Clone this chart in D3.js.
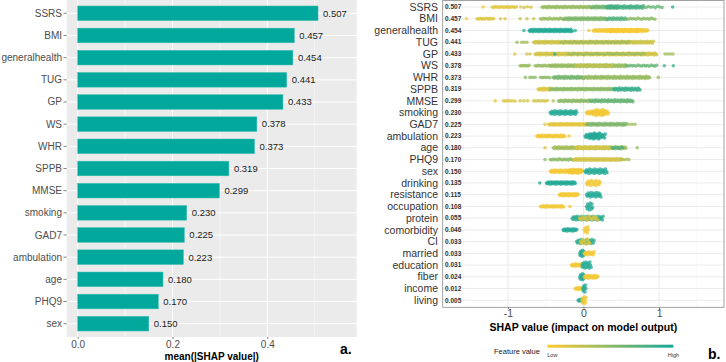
<!DOCTYPE html>
<html>
<head>
<meta charset="utf-8">
<script src="https://cdn.jsdelivr.net/npm/d3@7"></script>
<style>
body { margin: 0; background: #fff; }
text { font-family: "Liberation Sans", Arial, sans-serif; }
</style>
</head>
<body>
<div id="chart"></div>
<script>
let width = 726;
let height = 362;

// Panel a: mean(|SHAP value|) per feature
let barFeatures = ['SSRS', 'BMI', 'generalhealth', 'TUG', 'GP', 'WS', 'WHR', 'SPPB', 'MMSE', 'smoking', 'GAD7', 'ambulation', 'age', 'PHQ9', 'sex'];
let barValues = [0.507, 0.457, 0.454, 0.441, 0.433, 0.378, 0.373, 0.319, 0.299, 0.230, 0.225, 0.223, 0.180, 0.170, 0.150];
let barTicks = [0, 0.2, 0.4];
let barMinorTicks = [0.1, 0.3, 0.5];

// Panel b: SHAP summary (beeswarm)
let swarmFeatures = ['SSRS', 'BMI', 'generalhealth', 'TUG', 'GP', 'WS', 'WHR', 'SPPB', 'MMSE', 'smoking', 'GAD7', 'ambulation', 'age', 'PHQ9', 'sex', 'drinking', 'resistance', 'occupation', 'protein', 'comorbidity', 'CI', 'married', 'education', 'fiber', 'income', 'living'];
let swarmValues = ['0.507', '0.457', '0.454', '0.441', '0.433', '0.378', '0.373', '0.319', '0.299', '0.230', '0.225', '0.223', '0.180', '0.170', '0.150', '0.135', '0.115', '0.108', '0.055', '0.046', '0.033', '0.033', '0.031', '0.024', '0.012', '0.005'];
// runs of points: [from SHAP, to SHAP, feature value (0 low - 1 high), vertical spread, spacing]
let swarmRuns = [
	[[-1.33,-1.33,0.05,0,1], [-1.21,-0.88,0.12,0.5,0.02], [-0.83,-0.69,0.2,0.5,0.045], [-0.55,0.1,0.45,0.8,0.015], [0.1,0.45,0.6,1,0.012], [0.3,0.8,0.8,1.2,0.012], [0.8,1.04,0.65,0.8,0.03], [1.18,1.18,0.9,0,1]],
	[[-1.55,-1.55,0.05,0,1], [-1.41,-1.19,0.15,0.5,0.02], [-1.1,-1.03,0.15,0,0.06], [-0.84,-0.66,0.25,0,0.09], [-0.57,-0.26,0.45,0.6,0.02], [-0.26,0.31,0.55,1,0.012], [0.31,0.57,0.75,1,0.015], [0.57,0.95,0.5,0.6,0.025]],
	[[-0.79,-0.79,0.95,0,1], [-0.72,-0.15,0.95,1.2,0.01], [-0.11,-0.11,0.9,0,1], [0.07,0.07,0.05,0,1], [0.13,0.86,0.05,1,0.012], [0.3,0.75,0.03,1.3,0.012]],
	[[-0.88,-0.88,0.45,0,1], [-0.82,-0.75,0.4,0,0.035], [-0.66,0.93,0.22,1,0.012], [-0.3,0.6,0.4,0.6,0.03]],
	[[-0.91,-0.91,0.1,0,1], [-0.75,-0.71,0.2,0,0.04], [-0.64,0.97,0.2,1,0.012], [-0.2,0.8,0.45,0.6,0.04], [-0.38,-0.38,0.95,0,1], [1.08,1.19,0.4,0,0.035]],
	[[-0.84,-0.71,0.45,0.3,0.02], [-0.64,-0.44,0.45,0.5,0.02], [-0.44,0.57,0.45,1,0.012], [-0.1,0.4,0.25,0.8,0.03], [0.57,0.97,0.65,0.6,0.025], [1.07,1.07,0.8,0,1], [1.19,1.19,0.85,0,1]],
	[[-0.77,-0.77,0.5,0,1], [-0.71,-0.64,0.5,0,0.035], [-0.57,-0.44,0.5,0.3,0.025], [-0.4,0.0,0.6,1,0.012], [0.0,0.88,0.45,1,0.012], [0.99,0.99,0.45,0,1]],
	[[-0.6,-0.44,0.15,1,0.012], [-0.44,0.4,0.5,0.8,0.014], [0.4,0.75,0.85,1.2,0.012]],
	[[-1.17,-1.17,0.1,0,1], [-1.06,-0.9,0.15,0.3,0.03], [-0.84,-0.73,0.2,0,0.05], [-0.66,-0.46,0.2,0.3,0.03], [-0.4,-0.4,0.3,0,1], [-0.33,0.09,0.5,0.8,0.015], [0.09,0.66,0.65,1,0.012]],
	[[-0.44,-0.09,0.95,1.8,0.01], [0.04,0.33,0.05,1.5,0.01], [0.12,0.28,0.05,3,0.01]],
	[[-0.51,-0.51,0.1,0,1], [-0.46,0.04,0.12,0.8,0.012], [0.04,0.57,0.55,1,0.012], [0.6,0.71,0.4,0,0.04]],
	[[-0.62,-0.24,0.05,1,0.012], [-0.19,-0.19,0.05,0,1], [0.02,0.29,0.95,2,0.01], [0.08,0.22,0.95,3,0.01]],
	[[-0.51,-0.51,0.2,0,1], [-0.4,0.57,0.4,1,0.012], [-0.1,0.35,0.15,1,0.02], [0.38,0.52,0.75,0.8,0.02], [0.71,0.71,0.45,0,1]],
	[[-0.51,-0.51,0.5,0,1], [-0.44,-0.13,0.5,0.6,0.02], [-0.13,0.51,0.2,1,0.012], [0.51,0.62,0.35,0.4,0.03]],
	[[-0.44,-0.02,0.05,1.2,0.01], [-0.2,-0.02,0.05,2,0.01], [0.02,0.31,0.95,2.2,0.01]],
	[[-0.58,-0.58,0.95,0,1], [-0.49,-0.11,0.95,1.2,0.01], [0.04,0.22,0.05,2.5,0.01]],
	[[-0.32,-0.07,0.05,1.2,0.01], [0.04,0.23,0.95,2.2,0.01]],
	[[-0.57,-0.26,0.05,0.8,0.014], [-0.18,-0.18,0.05,0,1], [0.04,0.12,0.95,3.5,0.008]],
	[[-0.15,0.26,0.9,1.8,0.01], [-0.05,0.2,0.1,1.8,0.02]],
	[[-0.27,-0.09,0.95,1.2,0.01], [0.01,0.07,0.05,3,0.008]],
	[[-0.09,0.14,0.9,2,0.01], [-0.04,0.08,0.1,2.5,0.015]],
	[[-0.05,0.01,0.95,3,0.006], [0.01,0.14,0.05,1.5,0.01]],
	[[-0.16,-0.02,0.05,1.2,0.01], [-0.02,0.1,0.95,3,0.008]],
	[[-0.05,0.01,0.95,3,0.006], [0.01,0.19,0.05,1.5,0.01]],
	[[-0.11,-0.01,0.05,1,0.01], [-0.01,0.035,0.95,3.5,0.006]],
	[[-0.07,-0.01,0.95,1.2,0.01], [-0.02,0.035,0.05,3.5,0.006]]
];
let swarmTicks = [-1, 0, 1];
let swarmMinorTicks = [-1.5, -0.5, 0.5, 1.5];
let legendLabels = ['Low', 'High'];

let svg = d3.select('#chart')
	.append('svg')
	.attr('width', width)
	.attr('height', height);

// ---------- panel a ----------
let xA = d3.scaleLinear().domain([-0.0232, 0.5886]).range([66.7, 356.7]);
let yA = d3.scalePoint().domain(barFeatures).range([0, 337]).padding(0.6);
let a = svg.append('g');

a.append('rect')
 .attr('x', xA.range()[0])
 .attr('y', 0)
 .attr('width', xA.range()[1] - xA.range()[0])
 .attr('height', 337)
 .attr('fill', '#EBEBEB');

a.selectAll('.minor')
 .data(barMinorTicks)
 .enter()
 .append('line')
 .attr('x1', d => xA(d)).attr('x2', d => xA(d))
 .attr('y1', 0).attr('y2', 337)
 .attr('stroke', '#fff').attr('stroke-width', 0.5);

a.selectAll('.major')
 .data(barTicks)
 .enter()
 .append('line')
 .attr('x1', d => xA(d)).attr('x2', d => xA(d))
 .attr('y1', 0).attr('y2', 337)
 .attr('stroke', '#fff').attr('stroke-width', 1);

a.selectAll('.hgrid')
 .data(barFeatures)
 .enter()
 .append('line')
 .attr('x1', xA.range()[0]).attr('x2', xA.range()[1])
 .attr('y1', d => yA(d)).attr('y2', d => yA(d))
 .attr('stroke', '#fff').attr('stroke-width', 1);

let barH = yA.step() * 0.66;
a.selectAll('.bar')
 .data(barValues)
 .enter()
 .append('rect')
 .attr('x', xA(0))
 .attr('y', (d, i) => yA(barFeatures[i]) - barH / 2)
 .attr('width', d => xA(d) - xA(0))
 .attr('height', barH)
 .attr('fill', '#03A89C')
 .attr('stroke', '#3DBDB3')
 .attr('stroke-width', 0.5);

a.selectAll('.val')
 .data(barValues)
 .enter()
 .append('text')
 .attr('x', d => xA(d) + 5)
 .attr('y', (d, i) => yA(barFeatures[i]))
 .attr('dy', '0.35em')
 .attr('font-size', 9.5)
 .attr('fill', '#1a1a1a')
 .text(d => d3.format('.3f')(d));

// y axis labels
for (let i = 0; i < barFeatures.length; i++) {
	let y = yA(barFeatures[i]);
	a.append('line')
	 .attr('x1', 63.5).attr('x2', 66.7)
	 .attr('y1', y).attr('y2', y)
	 .attr('stroke', '#333').attr('stroke-width', 0.6);
	a.append('text')
	 .attr('x', 62)
	 .attr('y', y)
	 .attr('dy', '0.35em')
	 .attr('text-anchor', 'end')
	 .attr('font-size', 10)
	 .attr('fill', '#4D4D4D')
	 .text(barFeatures[i]);
}

let axA = a.append('g')
	.attr('transform', 'translate(0,337)')
	.call(d3.axisBottom(xA).tickValues(barTicks).tickFormat(d3.format('.1f')).tickSize(2));
axA.select('.domain').remove();
axA.selectAll('line').attr('stroke', '#333').attr('stroke-width', 0.6);
axA.selectAll('text').attr('font-size', 10).attr('fill', '#4D4D4D').attr('y', 4).attr('dy', '0.71em')
   .style('font-family', '"Liberation Sans", Arial, sans-serif');

a.append('text')
 .attr('x', (xA.range()[0] + xA.range()[1]) / 2)
 .attr('y', 359.5)
 .attr('text-anchor', 'middle')
 .attr('font-size', 10)
 .attr('font-weight', 'bold')
 .attr('fill', '#000')
 .text('mean(|SHAP value|)');

a.append('text')
 .attr('x', 340)
 .attr('y', 354)
 .attr('font-size', 14)
 .attr('font-weight', 'bold')
 .text('a.');

// ---------- panel b ----------
let xB = d3.scaleLinear().domain([-1.865, 1.86]).range([442.7, 724]);
let yB = d3.scalePoint().domain(swarmFeatures).range([0, 307.3]).padding(0.6);
let color = d3.scaleLinear().domain([0, 1]).range(['#FFCA30', '#17A89B']).interpolate(d3.interpolateRgb);
let b = svg.append('g');

b.selectAll('.minor')
 .data(swarmMinorTicks)
 .enter()
 .append('line')
 .attr('x1', d => xB(d)).attr('x2', d => xB(d))
 .attr('y1', 0).attr('y2', 307.3)
 .attr('stroke', '#F2F2F2').attr('stroke-width', 0.5);

b.selectAll('.major')
 .data(swarmTicks)
 .enter()
 .append('line')
 .attr('x1', d => xB(d)).attr('x2', d => xB(d))
 .attr('y1', 0).attr('y2', 307.3)
 .attr('stroke', '#EBEBEB').attr('stroke-width', 1);

b.selectAll('.hgrid')
 .data(swarmFeatures)
 .enter()
 .append('line')
 .attr('x1', xB.range()[0]).attr('x2', xB.range()[1])
 .attr('y1', d => yB(d)).attr('y2', d => yB(d))
 .attr('stroke', '#EBEBEB').attr('stroke-width', 1);

// points
let pattern = [0, 0.7, -0.7, 0.35, -0.35, 1, -1];
let pts = [];
for (let i = 0; i < swarmFeatures.length; i++) {
	let runs = swarmRuns[i];
	for (let j = 0; j < runs.length; j++) {
		let r = runs[j];
		let k = 0;
		for (let v = r[0]; v <= r[1] + 1e-9; v += r[4]) {
			pts.push({ x: v, row: swarmFeatures[i], off: r[3] * pattern[k % pattern.length], fv: r[2] });
			k++;
		}
	}
}
b.selectAll('.pt')
 .data(pts)
 .enter()
 .append('circle')
 .attr('cx', d => xB(d.x))
 .attr('cy', d => yB(d.row) + d.off)
 .attr('r', 1.8)
 .attr('fill', d => color(d.fv))
 .attr('fill-opacity', 0.75);

b.append('rect')
 .attr('x', xB.range()[0])
 .attr('y', 0.5)
 .attr('width', xB.range()[1] - xB.range()[0])
 .attr('height', 306.8)
 .attr('fill', 'none')
 .attr('stroke', '#8C8C8C')
 .attr('stroke-width', 0.8);

for (let i = 0; i < swarmFeatures.length; i++) {
	let y = yB(swarmFeatures[i]);
	b.append('text')
	 .attr('x', 438)
	 .attr('y', y)
	 .attr('dy', '0.35em')
	 .attr('text-anchor', 'end')
	 .attr('font-size', 10.5)
	 .attr('fill', '#333')
	 .text(swarmFeatures[i]);
	b.append('text')
	 .attr('x', 445)
	 .attr('y', y)
	 .attr('dy', '0.35em')
	 .attr('font-size', 6.5)
	 .attr('font-weight', 'bold')
	 .attr('fill', '#333')
	 .text(swarmValues[i]);
}

let axB = b.append('g')
	.attr('transform', 'translate(0,307.3)')
	.call(d3.axisBottom(xB).tickValues(swarmTicks).tickFormat(d => d === 0 ? '0' : (d < 0 ? '-' + Math.abs(d) : d)).tickSize(2));
axB.select('.domain').remove();
axB.selectAll('line').attr('stroke', '#333').attr('stroke-width', 0.6);
axB.selectAll('text').attr('font-size', 10.5).attr('fill', '#4D4D4D').attr('y', 2.5).attr('dy', '0.71em')
   .style('font-family', '"Liberation Sans", Arial, sans-serif');

b.append('text')
 .attr('x', (xB.range()[0] + xB.range()[1]) / 2)
 .attr('y', 331)
 .attr('text-anchor', 'middle')
 .attr('font-size', 10.5)
 .attr('font-weight', 'bold')
 .text('SHAP value (impact on model output)');

// legend
let grad = svg.append('defs').append('linearGradient').attr('id', 'fv');
grad.append('stop').attr('offset', '0%').attr('stop-color', color(0));
grad.append('stop').attr('offset', '100%').attr('stop-color', color(1));

b.append('text')
 .attr('x', 494)
 .attr('y', 354)
 .attr('font-size', 7.5)
 .attr('fill', '#1a1a1a')
 .text('Feature value');
b.append('rect')
 .attr('x', 547.3)
 .attr('y', 344.7)
 .attr('width', 126)
 .attr('height', 3)
 .attr('fill', 'url(#fv)');
b.append('text')
 .attr('x', 547.3)
 .attr('y', 357)
 .attr('font-size', 5.5)
 .attr('fill', '#333')
 .text(legendLabels[0]);
b.append('text')
 .attr('x', 679)
 .attr('y', 357)
 .attr('text-anchor', 'end')
 .attr('font-size', 5.5)
 .attr('fill', '#333')
 .text(legendLabels[1]);

b.append('text')
 .attr('x', 708)
 .attr('y', 359)
 .attr('font-size', 14)
 .attr('font-weight', 'bold')
 .text('b.');
</script>
</body>
</html>
